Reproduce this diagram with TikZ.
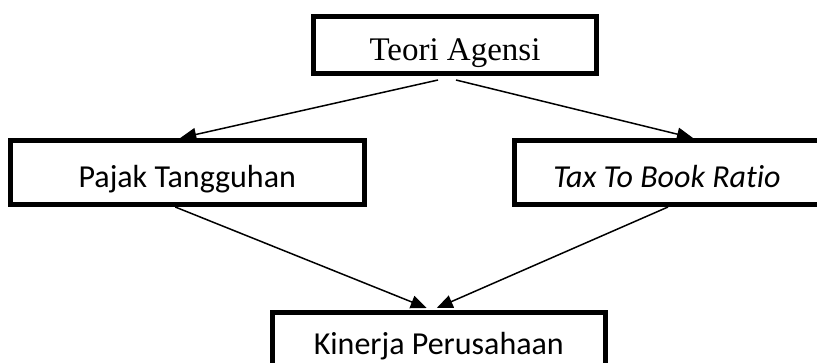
\documentclass[tikz,border=0pt]{standalone}
\usepackage{fontspec}
\setmainfont{Liberation Serif}
\newfontfamily\calibri[Ligatures=NoCommon]{Carlito}
\usetikzlibrary{arrows.meta}
\begin{document}
\begin{tikzpicture}[x=1pt,y=-1pt,
  box/.style={draw=black, line width=5pt, fill=white, inner sep=0pt, text depth=0pt},
  conn/.style={line width=1.5pt, -{Triangle[length=16pt,width=13pt]}},
  cfont/.style={font=\calibri\fontsize{32}{38}\selectfont},
  tfont/.style={font=\fontsize{33}{40}\selectfont}
]
\clip (0,0) rectangle (817,362);
\fill[white] (0,0) rectangle (817,362);
\node[box, tfont, minimum width=283pt, minimum height=57.5pt, text height=30.5pt] (top) at (455,44.75) {Teori Agensi};
\node[box, cfont, minimum width=353.5pt, minimum height=64pt, text height=29pt] (left) at (187.25,172.5) {Pajak Tangguhan};
\node[box, cfont, minimum width=306pt, minimum height=64pt, text height=29pt] (right) at (667,172.5) {\itshape Tax To Book Ratio};
\node[box, cfont, minimum width=333.5pt, minimum height=64pt, text height=20pt] (bot) at (438.75,344.5) {Kinerja Perusahaan};
\draw[conn] ([xshift=-17pt,yshift=-4pt]top.south) -- ([xshift=-7pt]left.north);
\draw[conn] ([xshift=1pt,yshift=-4pt]top.south) -- ([xshift=26pt]right.north);
\draw[conn] ([xshift=-12pt]left.south) -- ([xshift=-12pt,yshift=2pt]bot.north);
\draw[conn] ([xshift=1pt]right.south) -- ([xshift=-2pt,yshift=2pt]bot.north);
\end{tikzpicture}
\end{document}
